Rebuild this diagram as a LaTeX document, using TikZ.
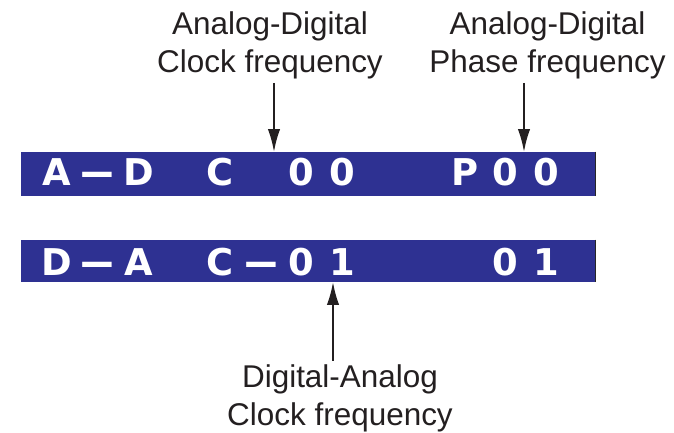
\documentclass[tikz,border=0pt]{standalone}
\usepackage{fontspec}
\usepackage{tikz}
\usepackage{xcolor}
\usetikzlibrary{arrows.meta}
\setmainfont{Liberation Sans}
\newfontfamily\lcdfont{DejaVu Sans}
\definecolor{lcdblue}{RGB}{46,49,146}
\definecolor{inkgray}{RGB}{35,31,32}
\newcommand{\lcddash}{\scalebox{2.6}[1]{-}}

\begin{document}
\begin{tikzpicture}[
            lcdbar/.style={fill=lcdblue, draw=none, inner sep=0pt, minimum width=11.48cm},
            lcdchar/.style={text=white, inner sep=0pt, anchor=base, font=\lcdfont\bfseries\fontsize{21}{21}\selectfont},
            label/.style={inner sep=0pt, align=center, text=inkgray, font=\fontsize{17.9}{21.6}\selectfont},
            arrow/.style={-{Latex[length=13pt,width=7pt]}, line width=1.1pt, draw=inkgray, shorten <=2pt},
            edge/.style={line width=0.7pt, draw=black!85}
        ]
            \useasboundingbox (0,0) rectangle (13.48,-8.66);

            % Display rows
            \node[lcdbar, minimum height=0.88cm] (adbar) at (6.16,-3.48) {};
            \node[lcdbar, minimum height=0.84cm] (dabar) at (6.16,-5.22) {};
            \draw[edge] (adbar.north east) -- (adbar.south east);
            \draw[edge] (dabar.north east) -- (dabar.south east);

            % Characters on the display grid
            \foreach \col/\ch in {0/A,1/\lcddash,2/D,4/C,6/0,7/0,10/P,11/0,12/0}
                \node[lcdchar] (ad-\col) at ({1.14+0.816*\col},-3.70) {\ch};
            \foreach \col/\ch in {0/D,1/\lcddash,2/A,4/C,5/\lcddash,6/0,7/1,11/0,12/1}
                \node[lcdchar] (da-\col) at ({1.14+0.816*\col},-5.50) {\ch};

            % Labels
            \node[label, anchor=north] (adclk) at (5.40,-0.23) {Analog-Digital\\Clock frequency};
            \node[label, anchor=north] (adphase) at (10.95,-0.23) {Analog-Digital\\Phase frequency};
            \node[label, anchor=north] (daclk) at (6.80,-7.29) {Digital-Analog\\Clock frequency};

            % Arrow tips on the displays
            \coordinate (adclktip) at (5.48,-3.04);
            \coordinate (adphasetip) at (10.48,-3.04);
            \coordinate (daclktip) at (6.66,-5.64);

            % Connect labels to the displays
            \draw[arrow] (adclk.south -| adclktip) -- (adclktip);
            \draw[arrow] (adphase.south -| adphasetip) -- (adphasetip);
            \draw[arrow] (daclk.north -| daclktip) -- (daclktip);
        \end{tikzpicture}
\end{document}
